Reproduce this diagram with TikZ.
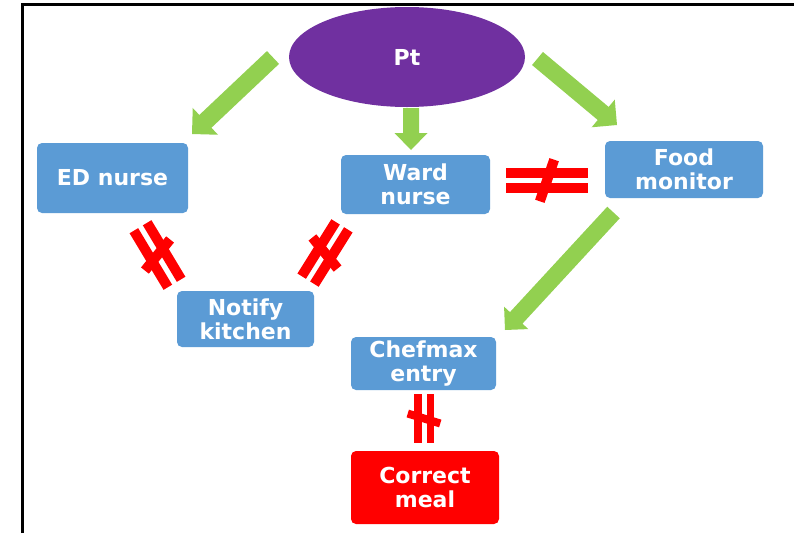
\documentclass[tikz,border=0pt]{standalone}
\usepackage{fontspec}
\setmainfont{DejaVu Sans}
\usetikzlibrary{calc,shapes.geometric}
\definecolor{ptpurple}{HTML}{7030A0}
\definecolor{boxblue}{HTML}{5B9BD5}
\definecolor{arrgreen}{HTML}{92D050}
\definecolor{mealred}{HTML}{FF0000}
% block arrow: #1 tail, #2 tip, #3 shaft half width, #4 head length, #5 head half width
\newcommand\blockarrow[5]{%
  \path ($(#2)!#4pt!(#1)$) coordinate (#1base);
  \fill[arrgreen]
    ($(#1)!#3pt!90:(#2)$) --
    ($(#1base)!#3pt!90:(#2)$) --
    ($(#1base)!#5pt!90:(#2)$) --
    (#2) --
    ($(#1base)!#5pt!-90:(#2)$) --
    ($(#1base)!#3pt!-90:(#2)$) --
    ($(#1)!#3pt!-90:(#2)$) -- cycle;
}
% broken link sign: #1 centre, #2 bar angle, #3 bar length, #4 bar spacing, #5 bar width,
% #6 slash angle, #7 slash length, #8 slash width
\newcommand\brokenlink[8]{%
  \begin{scope}[shift={(#1)}, rotate={-(#2)}]
    \fill[mealred] ({-(#3)/2},{-(#4)/2-(#5)/2}) rectangle ({(#3)/2},{-(#4)/2+(#5)/2});
    \fill[mealred] ({-(#3)/2},{(#4)/2-(#5)/2}) rectangle ({(#3)/2},{(#4)/2+(#5)/2});
  \end{scope}
  \begin{scope}[shift={(#1)}, rotate={-(#6)}]
    \fill[mealred] ({-(#7)/2},{-(#8)/2}) rectangle ({(#7)/2},{(#8)/2});
  \end{scope}
}
\begin{document}
\begin{tikzpicture}[x=1pt,y=-1pt,
  txt/.style={text=white, font=\bfseries\fontsize{22}{24}\selectfont, align=center, inner sep=0pt},
  box/.style={txt, rectangle, rounded corners=5pt, fill=boxblue},
  redbox/.style={txt, rectangle, rounded corners=5pt, fill=mealred},
  ptshape/.style={txt, ellipse, fill=ptpurple}]
\useasboundingbox (0,0) rectangle (794,533);
\fill[white] (0,0) rectangle (794,533);
% frame
\draw[line width=3pt] (22,533) -- (22,4) -- (794,4);

% nodes
\node[ptshape, minimum width=236pt, minimum height=100pt] (pt) at (407,57) {Pt};
\node[box, minimum width=151pt, minimum height=70pt] (ed) at (112.5,178) {ED nurse};
\node[box, minimum width=149pt, minimum height=59pt] (ward) at (415.5,184.5) {Ward\\nurse};
\node[box, minimum width=158pt, minimum height=57pt] (food) at (684,169.5) {Food\\monitor};
\node[box, minimum width=137pt, minimum height=56pt] (notify) at (245.5,319) {Notify\\kitchen};
\node[box, minimum width=145pt, minimum height=53pt] (chef) at (423.5,363.5) {Chefmax\\entry};
\node[redbox, minimum width=148pt, minimum height=73pt] (meal) at (425,487.5) {Correct\\meal};

% green arrows
\coordinate (a1t) at (273,57.5);  \coordinate (a1h) at (192,134);
\coordinate (a2t) at (411,108);   \coordinate (a2h) at (411,150);
\coordinate (a3t) at (537.5,58.5);\coordinate (a3h) at (617,125);
\coordinate (a4t) at (613.5,212.5);\coordinate (a4h) at (505,330);
\blockarrow{a1t}{a1h}{8.8}{18.4}{18.4}
\blockarrow{a2t}{a2h}{8}{17}{16.5}
\blockarrow{a3t}{a3h}{8.5}{18}{18}
\blockarrow{a4t}{a4h}{8.5}{16.5}{16.5}

% broken links
\coordinate (wardfood) at (547,180.5);
\coordinate (ednotify) at (157.5,255);
\coordinate (wardnotify) at (325,253);
\coordinate (chefmeal) at (424,418.5);
\brokenlink{wardfood}{0}{82}{15}{10}{109}{44}{10}
\brokenlink{ednotify}{59}{66}{15.5}{10}{129}{40}{10}
\brokenlink{wardnotify}{122}{64}{15}{10}{51}{40}{10}
\brokenlink{chefmeal}{90}{49}{12.5}{7.5}{17}{34}{8}
\end{tikzpicture}
\end{document}
